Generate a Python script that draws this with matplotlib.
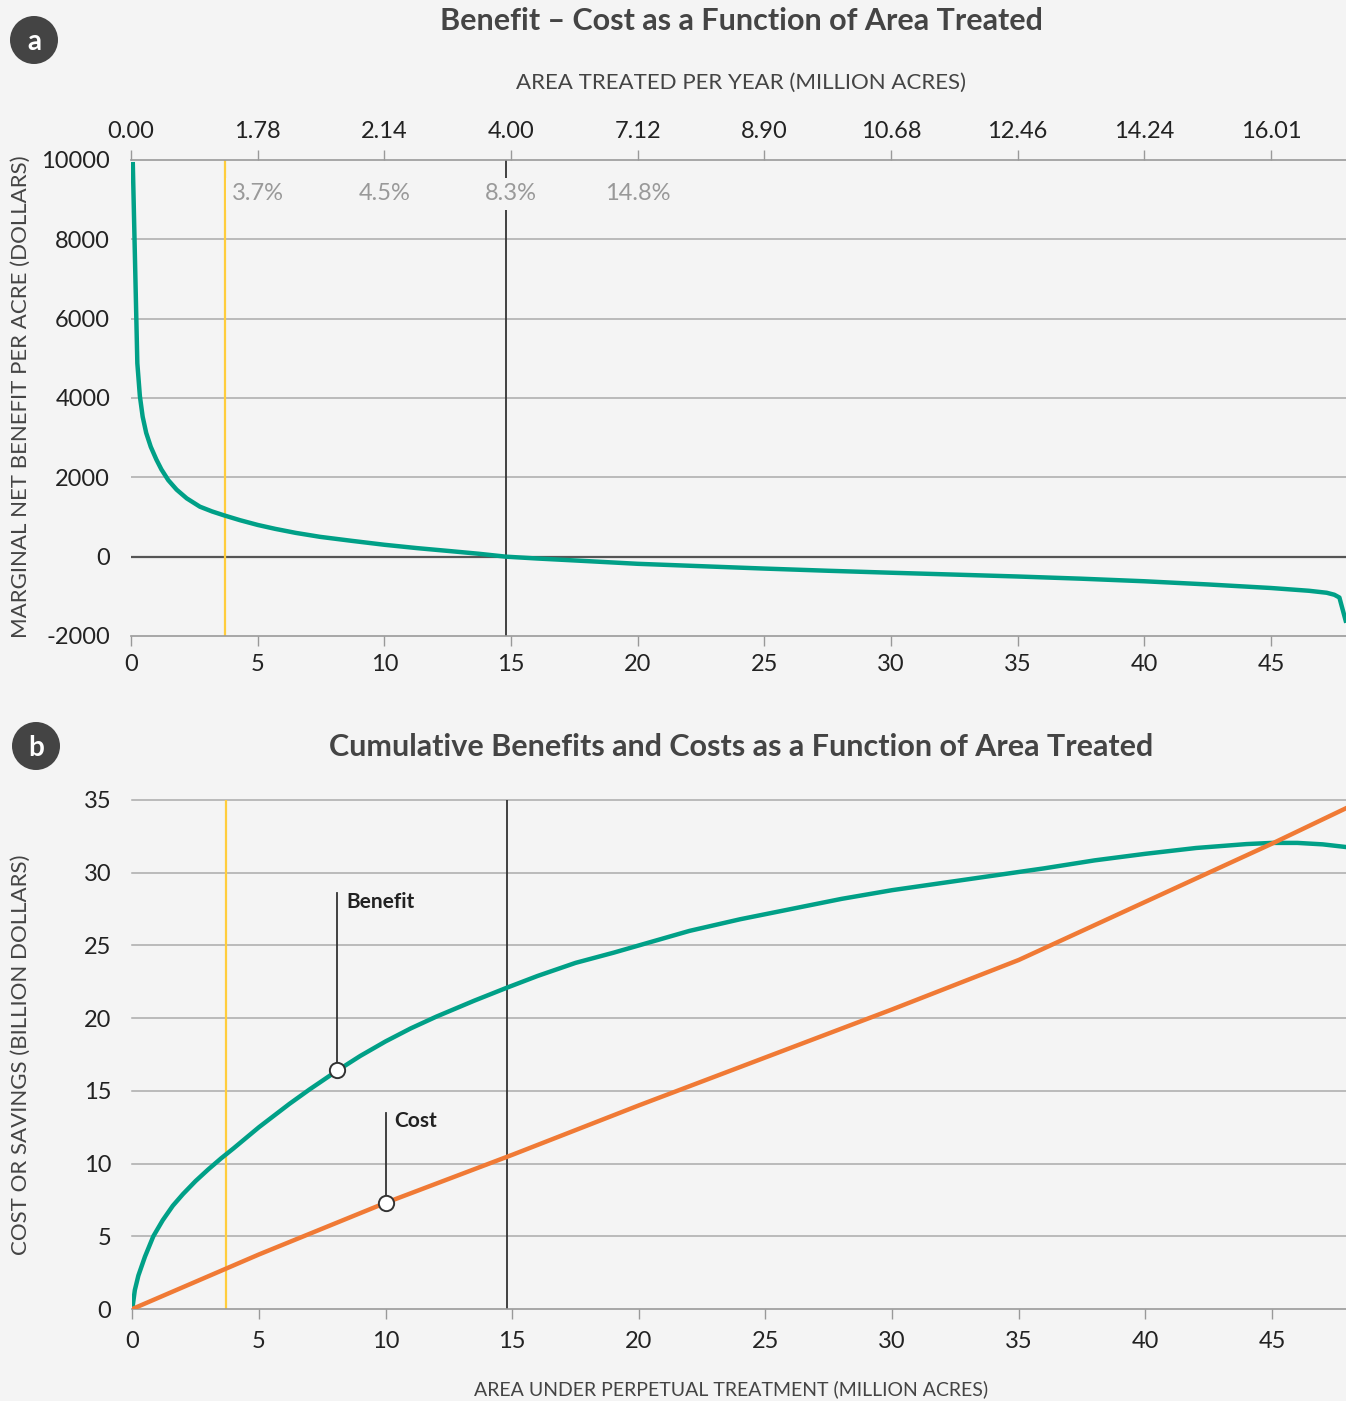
import matplotlib.pyplot as plt
from matplotlib.patches import Ellipse

plt.rcParams['font.family'] = ['Lato', 'DejaVu Sans']
plt.rcParams['axes.unicode_minus'] = False

W, H = 1346, 1401
BG = '#f4f4f4'
GREEN = '#00a087'
ORANGE = '#f07a35'
YELLOW = '#ffcd3c'
DARK = '#333333'
GRID = '#aaaaaa'
LABEL = '#444444'

# panel a: marginal net benefit per acre (dollars) vs area (million acres)
marg_x = [0.07, 0.25, 0.35, 0.46, 0.6, 0.78, 1.0, 1.2, 1.47, 1.8, 2.2, 2.72,
          3.2, 3.68, 4.3, 5.0, 5.7, 6.5, 7.46, 8.7, 10, 11.3, 12.6, 13.7, 14.8,
          16, 17.5, 20, 22.5, 25, 27.5, 30, 32.5, 35, 37.5, 40, 42.5, 45, 46.5,
          47.2, 47.5, 47.7, 47.97]
marg_y = [9950, 4875, 4050, 3530, 3120, 2770, 2450, 2200, 1930, 1690, 1470, 1260,
          1140, 1040, 920, 800, 700, 600, 500, 400, 300, 215, 140, 75, 0,
          -45, -95, -180, -240, -300, -355, -405, -452, -500, -555, -620, -700,
          -790, -860, -910, -960, -1030, -1666]

# panel b: cumulative benefit and cost (billion dollars)
benefit_x = [0, 0.1, 0.24, 0.5, 0.83, 1.2, 1.6, 2.0, 2.5, 3.0, 3.5, 4.0, 5.0,
             6.2, 7.0, 8.1, 9.0, 10, 11, 12, 13.5, 14.8, 16, 17.5, 19, 20, 22,
             24, 26, 28, 30, 32, 34, 36, 38, 40, 42, 44, 45, 46, 47, 48]
benefit_y = [0, 1.3, 2.3, 3.6, 5.0, 6.1, 7.1, 7.9, 8.8, 9.6, 10.35, 11.05, 12.5,
             14.1, 15.1, 16.4, 17.4, 18.4, 19.3, 20.1, 21.2, 22.1, 22.9, 23.8,
             24.5, 25.0, 26.0, 26.8, 27.5, 28.2, 28.8, 29.3, 29.8, 30.3, 30.85,
             31.3, 31.7, 31.97, 32.05, 32.05, 31.95, 31.75]
cost_x = [0, 5, 10, 15, 20, 25, 30, 35, 40, 45, 48]
cost_y = [0, 3.75, 7.3, 10.6, 14.0, 17.3, 20.6, 24.0, 28.0, 32.0, 34.5]

x_ticks = [0, 5, 10, 15, 20, 25, 30, 35, 40, 45]
top_labels = ['0.00', '1.78', '2.14', '4.00', '7.12', '8.90', '10.68',
              '12.46', '14.24', '16.01']
pct_x = [5, 10, 15, 20]
pct_labels = ['3.7%', '4.5%', '8.3%', '14.8%']
pct_y = 9150
yellow_x = 3.7
black_x = 14.8

benefit_mark = (8.1, 16.4, 28.6)   # x, y on curve, top of leader
cost_mark = (10, 7.3, 13.5)


def fx(px):
    return px / W


def fy(py):
    return 1 - py / H


fig = plt.figure(figsize=(W / 100, H / 100), dpi=100, facecolor=BG)

# ---------- panel a ----------
ax = fig.add_axes([fx(131), fy(636), fx(1347 - 131), (636 - 160) / H])
ax.set_facecolor(BG)
ax.set_xlim(0, 48)
ax.set_ylim(-2000, 10000)
for s in ['left', 'right']:
    ax.spines[s].set_visible(False)
for s in ['top', 'bottom']:
    ax.spines[s].set_color('#999999')
    ax.spines[s].set_linewidth(1.2)
ax.set_yticks([-2000, 0, 2000, 4000, 6000, 8000, 10000])
ax.set_xticks(x_ticks)
ax.tick_params(axis='y', length=0, pad=15, labelsize=17, labelcolor='#222222')
ax.tick_params(axis='x', length=7, width=1, color='#999999', pad=6,
               labelsize=17, labelcolor='#222222')
for v in [2000, 4000, 6000, 8000]:
    ax.axhline(v, color=GRID, lw=1.1, zorder=1)
ax.axhline(0, color='#555555', lw=1.6, zorder=2)
ax.axvline(yellow_x, color=YELLOW, lw=1.6, zorder=2)
ax.axvline(black_x, color=DARK, lw=1.3, zorder=2)
ax.plot(marg_x, marg_y, color=GREEN, lw=3.2, zorder=3, solid_capstyle='butt')
for x, t in zip(pct_x, pct_labels):
    ax.text(x, pct_y, t, ha='center', va='center', fontsize=17, color='#999999',
            zorder=4, bbox=dict(facecolor=BG, edgecolor='none', pad=4))

top = ax.twiny()
top.set_xlim(0, 48)
top.set_xticks(x_ticks)
top.set_xticklabels(top_labels)
for s in top.spines.values():
    s.set_visible(False)
top.tick_params(axis='x', length=7, width=1, color='#999999', pad=6,
                labelsize=17, labelcolor='#222222')

# ---------- panel b ----------
bx = fig.add_axes([fx(132.3), fy(1309), fx(1348 - 132.3), (1309 - 800) / H])
bx.set_facecolor(BG)
bx.set_xlim(0, 48)
bx.set_ylim(0, 35)
for s in ['left', 'right', 'top']:
    bx.spines[s].set_visible(False)
bx.spines['bottom'].set_color('#999999')
bx.spines['bottom'].set_linewidth(1.2)
bx.set_xticks(x_ticks)
bx.set_yticks(range(0, 36, 5))
bx.tick_params(axis='y', length=0, pad=15, labelsize=17, labelcolor='#222222')
bx.tick_params(axis='x', length=7, width=1, color='#999999', pad=9,
               labelsize=17, labelcolor='#222222')
for v in range(5, 36, 5):
    bx.axhline(v, color=GRID, lw=1.1, zorder=1, clip_on=False)
bx.axvline(yellow_x, color=YELLOW, lw=1.6, zorder=2)
bx.axvline(black_x, color=DARK, lw=1.3, zorder=2)
bx.plot(benefit_x, benefit_y, color=GREEN, lw=3.2, zorder=3)
bx.plot(cost_x, cost_y, color=ORANGE, lw=3.2, zorder=3)

for (mx, my, mtop), name in [(benefit_mark, 'Benefit'), (cost_mark, 'Cost')]:
    bx.plot([mx, mx], [my, mtop], color=DARK, lw=1.3, zorder=4)
    bx.plot(mx, my, 'o', ms=11, mfc='white', mec=DARK, mew=1.4, zorder=5)
    bx.text(mx + 0.35, mtop + 0.1, name, ha='left', va='top', fontsize=15,
            fontweight='bold', color='#222222', zorder=5)

# ---------- titles, labels, badges ----------
fig.text(fx(741), fy(21), 'Benefit \u2013 Cost as a Function of Area Treated',
         ha='center', va='center', fontsize=22, fontweight='bold', color=LABEL)
fig.text(fx(741), fy(747), 'Cumulative Benefits and Costs as a Function of Area Treated',
         ha='center', va='center', fontsize=22, fontweight='bold', color=LABEL)
fig.text(fx(741), fy(83), 'AREA TREATED PER YEAR (MILLION ACRES)',
         ha='center', va='center', fontsize=16, color=LABEL)
fig.text(fx(731), fy(1389), 'AREA UNDER PERPETUAL TREATMENT (MILLION ACRES)',
         ha='center', va='center', fontsize=14, color=LABEL)
fig.text(fx(21), fy(397), 'MARGINAL NET BENEFIT PER ACRE (DOLLARS)',
         ha='center', va='center', rotation=90, fontsize=16, color=LABEL)
fig.text(fx(21), fy(1055), 'COST OR SAVINGS (BILLION DOLLARS)',
         ha='center', va='center', rotation=90, fontsize=16, color=LABEL)

for cx, cy, letter in [(34, 40, 'a'), (36, 746, 'b')]:
    fig.patches.append(Ellipse((fx(cx), fy(cy)), 48 / W, 48 / H,
                               transform=fig.transFigure, facecolor='#444444',
                               edgecolor='none'))
    fig.text(fx(cx), fy(cy + 2), letter, ha='center', va='center', fontsize=20,
             fontweight='bold', color='white')

fig.savefig('out.png', dpi=100, facecolor=BG)
